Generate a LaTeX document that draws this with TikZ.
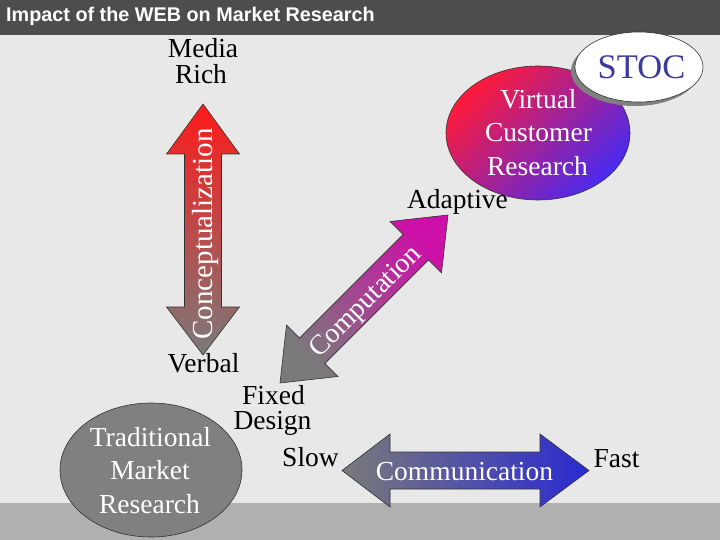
\documentclass[tikz,border=0pt]{standalone}
\usepackage{fontspec}
\setmainfont{Liberation Serif}
\newfontfamily\titlefont{Liberation Sans}
\definecolor{bgc}{HTML}{E8E8E8}
\definecolor{titlebar}{HTML}{4D4D4D}
\definecolor{band}{HTML}{B0B0B0}
\definecolor{vred}{HTML}{FF1A1A}
\definecolor{agray}{HTML}{7A7A7A}
\definecolor{dmag}{HTML}{CC10A8}
\definecolor{ered}{HTML}{FF1A3A}
\definecolor{eblue}{HTML}{4A2AF0}
\definecolor{cblue}{HTML}{2A2AD2}
\definecolor{tgray}{HTML}{808080}
\definecolor{stocblue}{HTML}{3A3AA0}
\begin{document}
\begin{tikzpicture}[x=1pt,y=-1pt,
  lbl/.style={font=\fontsize{27.5}{33}\selectfont, inner sep=0pt, anchor=base, text=black},
  wlbl/.style={lbl, text=white},
  arrowshape/.style={draw=black!80, line width=0.6pt},
  ovalline/.style={draw=black!80, line width=0.6pt}]
\useasboundingbox (0,0) rectangle (720,540);
\fill[bgc] (0,0) rectangle (720,540);
\fill[titlebar] (0,0) rectangle (720,35);
\fill[band] (0,503) rectangle (720,540);
\node[anchor=base west, inner sep=0pt, text=white, font=\titlefont\bfseries\fontsize{19.8}{20}\selectfont] (title) at (6,22) {Impact of the WEB on Market Research};
% vertical arrow
\shadedraw[arrowshape, top color=vred, bottom color=agray]
  (203,104) -- (239.5,154) -- (221.5,154) -- (221.5,307) -- (239.5,307) -- (203,355)
  -- (166.5,307) -- (184.5,307) -- (184.5,154) -- (166.5,154) -- cycle;
% diagonal arrow
\shadedraw[arrowshape, left color=agray, right color=dmag, shading angle=135]
  (280,383) -- (286.5,325.1) -- (299.5,338.1) -- (403.1,234.5) -- (390.1,221.5) -- (448,215)
  -- (441.5,272.9) -- (428.5,259.9) -- (324.9,363.5) -- (337.9,376.5) -- cycle;
% communication arrow
\shadedraw[arrowshape, left color=agray, right color=cblue]
  (342,470.5) -- (390,434) -- (390,452) -- (540,452) -- (540,434) -- (589,470.5)
  -- (540,507) -- (540,489) -- (390,489) -- (390,507) -- cycle;
% ellipses
\shadedraw[ovalline, left color=ered, right color=eblue, shading angle=45] (538,133) ellipse [x radius=92pt, y radius=67pt];
\fill[tgray] (635,71) ellipse [x radius=64pt, y radius=35pt];
\filldraw[ovalline, fill=white] (639,67) ellipse [x radius=64pt, y radius=35pt];
\filldraw[ovalline, fill=tgray] (151,470) ellipse [x radius=91pt, y radius=67pt];
% labels
\node[lbl] (media) at (203,58) {Media};
\node[lbl] (rich) at (201,84) {Rich};
\node[lbl] (verbal) at (203.5,372) {Verbal};
\node[lbl] (fixed) at (273.5,404) {Fixed};
\node[lbl] (design) at (272.5,429) {Design};
\node[lbl] (slow) at (310.5,466) {Slow};
\node[wlbl] (trad1) at (150.5,446) {Traditional};
\node[wlbl] (trad2) at (150,479) {Market};
\node[wlbl] (trad3) at (149.5,513) {Research};
\node[wlbl] (comm) at (464.5,480) {Communication};
\node[lbl] (fast) at (616.5,467) {Fast};
\node[wlbl] (v1) at (538.5,109) {Virtual};
\node[wlbl] (v2) at (538.5,142) {Customer};
\node[wlbl] (v3) at (537.5,176) {Research};
\node[lbl] (adaptive) at (457.5,208) {Adaptive};
\node[lbl, font=\fontsize{34.5}{36}\selectfont, text=stocblue] (stoc) at (641.5,79) {STOC};
\node[wlbl, font=\fontsize{29}{30}\selectfont, rotate=90] (concept) at (212,234) {Conceptualization};
\node[wlbl, font=\fontsize{28}{30}\selectfont, rotate=45] (comp) at (371,307) {Computation};
\end{tikzpicture}
\end{document}
